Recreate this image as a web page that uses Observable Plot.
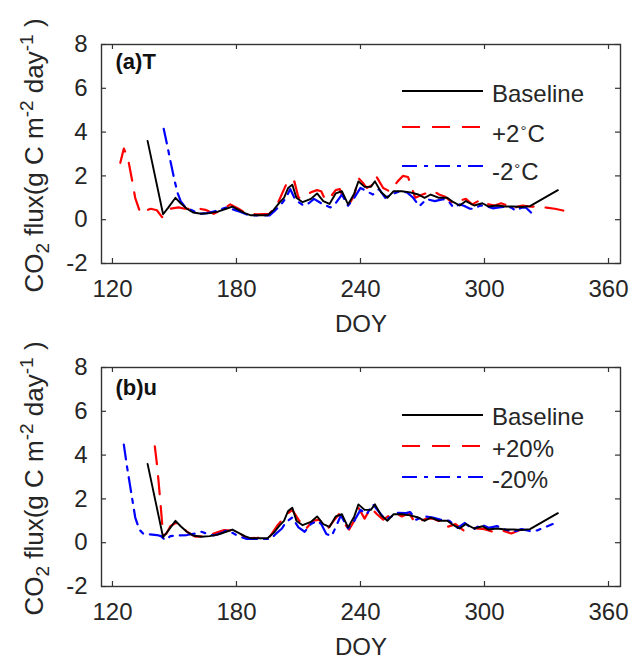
<!DOCTYPE html>
<html><head><meta charset="utf-8">
<script src="https://cdn.jsdelivr.net/npm/d3@7"></script>
<script src="https://cdn.jsdelivr.net/npm/@observablehq/plot@0.6"></script>
<style>body{margin:0;background:#fff} svg{display:block;overflow:visible}</style>
</head><body><div id="chart"></div>
<script>
// ---- data (DOY, CO2 flux) ----
const xTicks = [120, 180, 240, 300, 360];
const yTicks = [-2, 0, 2, 4, 6, 8];

const baseline = [[137,3.6],[144.5,0.25],[147,0.55],[150.5,1.0],[153,0.75],[156,0.5],[159,0.33],[163,0.27],[167,0.3],[171,0.37],[175,0.5],[178,0.6],[181,0.45],[184,0.3],[187,0.2],[191,0.2],[195,0.2],[198,0.45],[201,0.8],[203,1.0],[205,1.45],[207,1.6],[209,1.0],[212,0.8],[216,0.95],[219,1.2],[222,0.85],[225,0.72],[228,1.2],[231,1.3],[234,0.7],[237,1.2],[239,1.75],[242,1.5],[245,1.5],[247,1.75],[250,1.25],[253,1.0],[256,1.3],[260,1.3],[264,1.25],[268,1.15],[271,1.0],[274,1.15],[278,1.0],[282,1.0],[285,0.8],[288,0.65],[291,0.85],[295,0.65],[299,0.75],[302,0.6],[306,0.65],[310,0.6],[314,0.6],[318,0.58],[322,0.62],[335.5,1.35]];

const tPlus2 = [[123.8,2.6],[125.5,3.25],[127.5,2.8],[129.5,1.8],[131,1.0],[133.5,0.3],[136,0.4],[138.5,0.5],[141.5,0.43],[144,0.12],[146,0.3],[148,0.5],[152,0.56],[155,0.5],[158,0.5],[162,0.5],[165,0.45],[169,0.27],[173,0.45],[177,0.7],[181,0.5],[185,0.27],[190,0.25],[196,0.27],[200,0.75],[204,1.6],[206,1.5],[208,1.75],[210,1.0],[213,1.05],[216,1.25],[219,1.35],[221,1.3],[223,0.9],[226,1.1],[228,1.35],[230,1.4],[232,0.86],[234,0.64],[237,1.1],[239,1.9],[241,1.7],[243,1.45],[246,1.6],[247.5,2.0],[251,1.45],[254,1.3],[256,1.5],[258,1.75],[260.5,2.0],[263,1.95],[266.5,1.0],[270,1.15],[273,1.25],[275.5,1.3],[278,1.15],[281,1.05],[284,0.8],[286,0.75],[289,0.9],[291,0.95],[294,0.7],[297,0.85],[299,0.9],[302,0.7],[305,0.65],[308,0.75],[311,0.65],[313.5,0.5],[316,0.6],[318.5,0.65],[322,0.6],[326,0.6],[330,0.55],[334,0.5],[338,0.42],[341,0.38]];

const tMinus2 = [[144.8,4.15],[146.5,3.4],[148,2.7],[150,1.8],[151.6,1.2],[153,0.85],[155,0.6],[158,0.45],[162,0.27],[166,0.3],[170,0.4],[175,0.55],[179,0.45],[182,0.35],[186,0.2],[191,0.2],[196,0.2],[199,0.45],[202,0.75],[204,1.0],[206,1.4],[208.5,0.9],[212.5,0.65],[215,0.75],[217.5,0.95],[221.5,0.72],[225.5,0.56],[228,0.75],[231,1.15],[234,0.64],[237,1.0],[240,1.45],[243,1.3],[246,1.15],[249,1.4],[252,1.0],[255,1.15],[259,1.3],[262.5,1.25],[265.5,1.0],[268.5,0.62],[272,0.94],[276,0.85],[280,0.94],[282.5,0.85],[285,0.56],[288,0.7],[290,0.64],[293,0.5],[295,0.5],[298,0.65],[301,0.62],[304,0.52],[307,0.56],[310,0.6],[313,0.55],[315,0.42],[318,0.55],[320,0.56],[322.5,0.33]];

const uPlus20 = [[140.5,4.4],[141.5,3.6],[142.5,2.6],[143.5,1.5],[144.5,0.35],[146,0.4],[148,0.75],[150.5,0.9],[152.5,0.85],[156,0.5],[160,0.28],[165,0.3],[170,0.45],[174,0.58],[178,0.55],[182,0.4],[185,0.2],[190,0.22],[196,0.26],[199.5,0.75],[203,1.15],[205,1.35],[207,1.5],[210,1.05],[213.5,0.62],[217,1.0],[220,1.05],[224,0.62],[227,1.0],[229.6,1.3],[232,0.9],[234.5,0.6],[237,1.0],[239,1.6],[242,1.1],[245,1.6],[248,1.3],[251,1.05],[254,1.25],[257,1.35],[260,1.2],[263.5,1.35],[266.5,0.9],[269,1.0],[272,1.1],[275,1.1],[277.5,1.0],[280,1.0],[282,0.72],[286,0.85],[290,0.55],[293,0.72],[296,0.65],[300,0.62],[304,0.5],[309,0.55],[313,0.42],[317.5,0.6],[320,0.55],[322,0.58]];

const uMinus20 = [[125.5,4.48],[127,3.5],[128.7,2.5],[131,1.16],[133,0.6],[135,0.4],[138,0.38],[141.5,0.35],[143.5,0.3],[145.5,0.12],[148,0.3],[152,0.33],[156,0.35],[160,0.42],[163,0.5],[166,0.4],[169,0.33],[173,0.45],[175,0.56],[178,0.45],[181,0.3],[185,0.17],[190,0.17],[196.5,0.17],[199,0.4],[202,0.65],[204,0.95],[207,1.15],[210,0.7],[213,0.5],[216,0.85],[219,1.0],[221,0.85],[223.5,0.4],[226,0.3],[228,0.7],[230.5,1.25],[234,0.65],[237,1.0],[240,1.5],[243,1.3],[246,1.75],[249,1.4],[252,1.05],[255,1.2],[258,1.36],[262,1.35],[264,1.4],[267,1.05],[271,1.2],[275,1.15],[279,1.05],[283,1.0],[287,0.68],[290.5,0.9],[294.5,0.6],[298.5,0.83],[302,0.68],[306,0.76],[310,0.6],[314,0.5],[318,0.62],[322,0.53],[325.5,0.56],[329,0.7],[333,0.85]];

const panelLabels = ["(a)T", "(b)u"];
const legendA = ["Baseline", "+2°C", "-2°C"];
const legendB = ["Baseline", "+20%", "-20%"];

// ---- styles ----
const FONT = "'Liberation Sans', Arial, Helvetica, sans-serif";
const W = 633, ML = 101, MR = 13;
const styles = [
  {stroke: "#000000", strokeWidth: 1.9, dash: null},
  {stroke: "#ff0000", strokeWidth: 2.2, dash: "18,12"},
  {stroke: "#0000ff", strokeWidth: 2.2, dash: "15,7,4,7"}
];

function panel(cfg) {
  const PH = cfg.height - cfg.marginTop - cfg.marginBottom;
  const PW = W - ML - MR;
  const seriesList = cfg.series;
  const order = [1, 2, 0];
  const svg = Plot.plot({
    width: W, height: cfg.height,
    marginLeft: ML, marginRight: MR, marginTop: cfg.marginTop, marginBottom: cfg.marginBottom,
    style: {fontFamily: FONT, fontSize: "24px", color: "#262626", background: "transparent", overflow: "visible"},
    x: {domain: [114.7, 365.8], axis: null},
    y: {domain: [-2, 8], axis: null},
    marks: [
      ...order.map(i => Plot.line(seriesList[i], {
        x: d => d[0], y: d => d[1],
        stroke: styles[i].stroke, strokeWidth: styles[i].strokeWidth,
        strokeDasharray: styles[i].dash, strokeLinejoin: "round"
      })),
      Plot.frame({stroke: "#333", strokeWidth: 1.4}),
      Plot.tickY(yTicks, {y: d => d, insetRight: PW - 5, stroke: "#333", strokeWidth: 1.2}),
      Plot.tickY(yTicks, {y: d => d, insetLeft: PW - 5, stroke: "#333", strokeWidth: 1.2}),
      Plot.tickX(xTicks, {x: d => d, insetTop: PH - 5, stroke: "#333", strokeWidth: 1.2}),
      Plot.tickX(xTicks, {x: d => d, insetBottom: PH - 5, stroke: "#333", strokeWidth: 1.2}),
      Plot.text(xTicks, {x: d => d, frameAnchor: "bottom", dy: 33.5, lineAnchor: "bottom",
        text: d => String(d), fontSize: 24, fill: "#262626"}),
      Plot.text(yTicks, {y: d => d, frameAnchor: "left", dx: -14, textAnchor: "end", lineAnchor: "middle",
        text: d => String(d), fontSize: 24, fill: "#262626"}),
      Plot.text(["DOY"], {frameAnchor: "bottom", dy: 68, lineAnchor: "bottom", text: d => d,
        fontSize: 24, fill: "#262626"}),
      Plot.text([cfg.label], {frameAnchor: "top-left", dx: 14, dy: cfg.labelDy, textAnchor: "start",
        lineAnchor: "bottom", text: d => d, fontSize: 22, fontWeight: "bold", fill: "#111"})
    ]
  });

  const s = d3.select(svg);
  // y-axis label with sub/superscripts
  const cy = cfg.marginTop + PH / 2 + 2;
  const t = s.append("text")
    .attr("transform", `translate(43,${cy}) rotate(-90)`)
    .attr("text-anchor", "middle")
    .attr("font-family", FONT).attr("font-size", 26).attr("fill", "#262626");
  t.append("tspan").text("CO");
  t.append("tspan").attr("font-size", 19).attr("dy", 6).text("2");
  t.append("tspan").attr("dy", -6).text("\u00a0flux(g C m");
  t.append("tspan").attr("font-size", 19).attr("dy", -10).text("-2");
  t.append("tspan").attr("dy", 10).text("\u00a0day");
  t.append("tspan").attr("font-size", 19).attr("dy", -10).text("-1");
  t.append("tspan").attr("dy", 10).text("\u00a0)");

  // legend
  const g = s.append("g").attr("font-family", FONT).attr("font-size", 24).attr("fill", "#262626")
    .attr("text-anchor", "start");
  cfg.legend.forEach((name, i) => {
    const ly = cfg.marginTop + cfg.legendLineY[i];
    const ty = cfg.marginTop + cfg.legendTextY[i];
    g.append("line").attr("x1", 402).attr("x2", 483).attr("y1", ly).attr("y2", ly)
      .attr("stroke", styles[i].stroke).attr("stroke-width", styles[i].strokeWidth)
      .attr("stroke-dasharray", styles[i].dash);
    const tx = g.append("text").attr("x", 492).attr("y", ty).attr("text-anchor", "start");
    if (name.includes("°")) {
      const [a, b] = name.split("°");
      tx.append("tspan").text(a);
      tx.append("tspan").attr("font-size", 15).attr("dy", -6).attr("dx", 1).text("°");
      tx.append("tspan").attr("dy", 6).attr("dx", 1).text(b);
    } else {
      tx.text(name);
    }
  });
  return svg;
}

const root = document.getElementById("chart");
root.appendChild(panel({
  height: 337, marginTop: 44, marginBottom: 74, label: panelLabels[0], labelDy: 24,
  series: [baseline, tPlus2, tMinus2], legend: legendA,
  legendLineY: [47, 83, 122], legendTextY: [58, 98, 136]
}));
root.appendChild(panel({
  height: 322, marginTop: 30, marginBottom: 73, label: panelLabels[1], labelDy: 27,
  series: [baseline, uPlus20, uMinus20], legend: legendB,
  legendLineY: [48, 79, 110], legendTextY: [58, 90, 121]
}));
</script>
</body></html>
